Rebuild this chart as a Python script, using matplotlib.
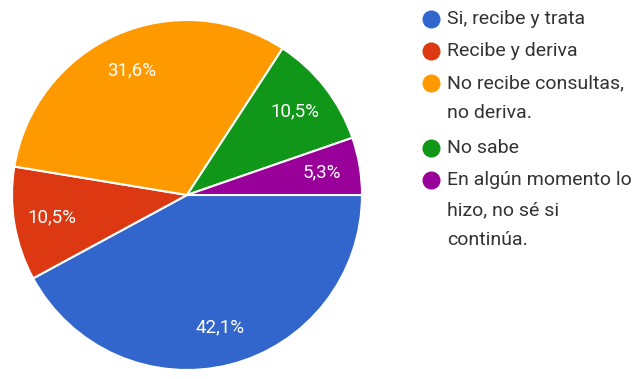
import matplotlib.pyplot as plt
from matplotlib.lines import Line2D

plt.rcParams['font.family'] = ['Roboto', 'DejaVu Sans']

# data
labels = ["Si, recibe y trata", "Recibe y deriva", "No recibe consultas,\nno deriva.",
          "No sabe", "En algún momento lo\nhizo, no sé si\ncontinúa."]
values = [42.1, 10.5, 31.6, 10.5, 5.3]
colors = ["#3366cc", "#dc3912", "#ff9900", "#109618", "#990099"]

W, H = 632, 379
fig = plt.figure(figsize=(W / 100, H / 100), dpi=100)

# pie area (pixels -> figure fractions)
ax = fig.add_axes([12 / W, 9 / H, 350 / W, 350 / H])
wedges, texts, autotexts = ax.pie(
    values, colors=colors, startangle=0, counterclock=False,
    autopct=lambda p: f"{p:.1f}%".replace('.', ','), pctdistance=0.78,
    wedgeprops=dict(edgecolor='white', linewidth=1.5),
    textprops=dict(color='white', fontsize=13.5))
ax.set_xlim(-1, 1)
ax.set_ylim(-1, 1)
ax.set_aspect('equal')

# legend drawn by hand, one text per line
y = 19
for lab, col in zip(labels, colors):
    fig.add_artist(Line2D([431 / W], [1 - y / H], marker='o', markersize=12,
                          color=col, transform=fig.transFigure))
    lines = lab.split('\n')
    for ln in lines:
        fig.text(447 / W, 1 - y / H, ln, fontsize=14, color='#333333',
                 va='center', ha='left')
        y += 30
    y += 2 if len(lines) == 1 else 5

fig.savefig("out.png", dpi=100)
